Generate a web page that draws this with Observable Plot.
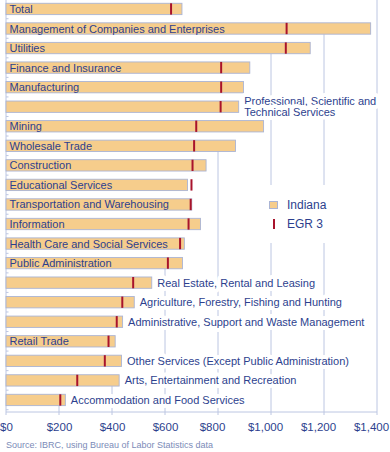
<!DOCTYPE html>
<html><head><meta charset="utf-8">
<script src="https://cdn.jsdelivr.net/npm/d3@7"></script>
<script src="https://cdn.jsdelivr.net/npm/@observablehq/plot@0.6"></script>
<style>
body{margin:0;background:#fff;font-family:"Liberation Sans",Arial,sans-serif;}
#wrap{position:relative;width:390px;}
#legend{position:absolute;left:262px;top:185px;width:84px;height:58px;background:#fff;color:#2d3f8e;font-size:12px;}
#legend .sw{position:absolute;left:7px;top:16px;width:9px;height:8px;box-sizing:border-box;border:1px solid #aab4d4;}
#legend .ln{position:absolute;left:11px;top:34px;width:2px;height:10px;}
#legend .lb{position:absolute;left:25px;line-height:12px;white-space:nowrap;}
#caption{margin-top:6px;padding-left:6px;font-size:9px;line-height:10px;color:#7b8bb8;}
</style></head><body>
<div id="wrap"><div id="chart"></div>
<div id="legend">
  <div class="sw"></div><div class="lb" id="lg1" style="top:14px"></div>
  <div class="ln"></div><div class="lb" id="lg2" style="top:33px"></div>
</div>
</div>
<div id="caption">Source: IBRC, using Bureau of Labor Statistics data</div>
<script>
const industries = [
  "Total",
  "Management of Companies and Enterprises",
  "Utilities",
  "Finance and Insurance",
  "Manufacturing",
  "Professional, Scientific and\nTechnical Services",
  "Mining",
  "Wholesale Trade",
  "Construction",
  "Educational Services",
  "Transportation and Warehousing",
  "Information",
  "Health Care and Social Services",
  "Public Administration",
  "Real Estate, Rental and Leasing",
  "Agriculture, Forestry, Fishing and Hunting",
  "Administrative, Support and Waste Management",
  "Retail Trade",
  "Other Services (Except Public Administration)",
  "Arts, Entertainment and Recreation",
  "Accommodation and Food Services"
];
const indiana = [664, 1376, 1148, 920, 896, 878, 972, 866, 755, 685, 701, 734, 673, 666, 550, 484, 440, 412, 436, 427, 224];
const egr3 = [621, 1057, 1054, 810, 810, 808, 716, 708, 702, 698, 695, 687, 655, 609, 478, 437, 416, 385, 371, 267, 203];
const xTicks = [0, 200, 400, 600, 800, 1000, 1200, 1400];
const legendLabels = ["Indiana", "EGR 3"];

const barFill = "#f6cd8c", barStroke = "#aab4d4", egrColor = "#a8132c";
const navy = "#2d3f8e", gridColor = "#bcc6e2";
const W = 390, H = 434, mL = 6, mR = 13, mT = 0, mB = 22;
const fontFamily = '"Liberation Sans", Arial, sans-serif';

document.querySelector("#legend .sw").style.background = barFill;
document.querySelector("#legend .ln").style.background = egrColor;
document.getElementById("lg1").textContent = legendLabels[0];
document.getElementById("lg2").textContent = legendLabels[1];

const ctx = document.createElement("canvas").getContext("2d");
ctx.font = `11px ${fontFamily}`;
const pxPerUnit = (W - mL - mR) / 1400;
const rows = industries.map((name, i) => {
  const w = ctx.measureText(name.replace("\n", " ")).width;
  const inside = w + 10 < indiana[i] * pxPerUnit;
  return {name, indiana: indiana[i], egr: egr3[i], inside, label: inside ? name.replace("\n", " ") : name};
});

function gridAndAxes(index, scales, values, dims) {
  const {x, y} = scales;
  const bw = y.bandwidth(), step = y.step(), gap = step - bw;
  const top = dims.marginTop, bottom = dims.height - dims.marginBottom;
  const g = d3.create("svg:g").attr("fill", "none").attr("stroke", gridColor).attr("stroke-width", 1);
  for (const t of xTicks.slice(1)) {
    let last = -1;
    rows.forEach((r, i) => { if (r.indiana > t) last = i; });
    const y1 = last >= 0 ? y(rows[last].name) + bw : top;
    g.append("line").attr("x1", x(t)).attr("x2", x(t)).attr("y1", y1).attr("y2", bottom);
  }
  g.append("line").attr("x1", x(0)).attr("x2", x(0)).attr("y1", top).attr("y2", bottom);
  rows.forEach((r, i) => {
    if (i === 0) return;
    const yy = y(r.name) - gap / 2;
    g.append("line").attr("x1", x(0)).attr("x2", x(0) + 2.5).attr("y1", yy).attr("y2", yy);
  });
  const yb = y(rows[rows.length - 1].name) + bw + gap / 2;
  g.append("line").attr("x1", x(0)).attr("x2", x(0) + 2.5).attr("y1", yb).attr("y2", yb);
  g.append("line").attr("x1", x(0)).attr("x2", x(1400)).attr("y1", bottom).attr("y2", bottom);
  for (const t of xTicks) {
    g.append("line").attr("x1", x(t)).attr("x2", x(t)).attr("y1", bottom).attr("y2", bottom + 3);
  }
  return g.node();
}

const fmt = d3.format("$,");
const chart = Plot.plot({
  width: W, height: H,
  marginLeft: mL, marginRight: mR, marginTop: mT, marginBottom: mB,
  style: {fontFamily, fontSize: "11px", color: navy, background: "white", overflow: "visible"},
  x: {domain: [0, 1400], axis: null},
  y: {domain: industries, axis: null, paddingInner: 0.42, paddingOuter: 0.247, align: 0.34, round: false},
  marks: [
    gridAndAxes,
    Plot.barX(rows, {x: "indiana", y: "name", fill: barFill, stroke: barStroke, strokeWidth: 0.9}),
    Plot.tickX(rows, {x: "egr", y: "name", stroke: egrColor, strokeWidth: 2}),
    Plot.text(rows.filter(d => d.inside), {x: 0, y: "name", text: "label", textAnchor: "start", dx: 3, fill: navy, fontSize: 11}),
    Plot.text(rows.filter(d => !d.inside), {x: "indiana", y: "name", text: "label", textAnchor: "start", dx: 5, fill: navy, fontSize: 11,
      stroke: "white", strokeWidth: 8, strokeLinejoin: "round", paintOrder: "stroke", lineHeight: 1}),
    Plot.axisX({ticks: xTicks.slice(0, 4), tickSize: 0, tickPadding: 10, tickFormat: fmt, fontSize: 11.5, fill: navy}),
    Plot.axisX({ticks: xTicks.slice(4), tickSize: 0, tickPadding: 10, tickFormat: fmt, fontSize: 11.5, fill: navy, dx: -6})
  ]
});
document.getElementById("chart").appendChild(chart);
</script>
</body></html>
